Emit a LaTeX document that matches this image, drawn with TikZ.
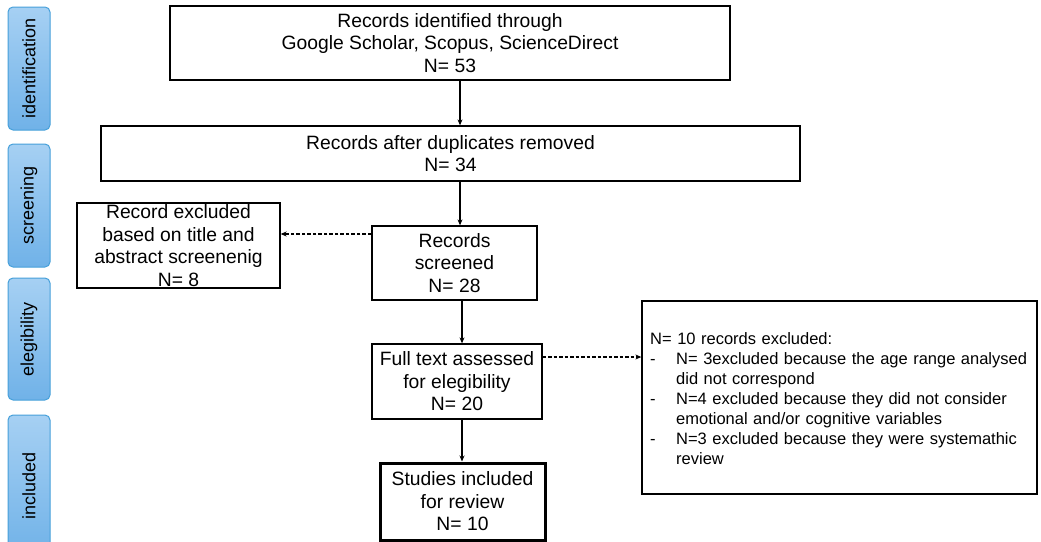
\documentclass[tikz,border=0pt]{standalone}
\usepackage{fontspec}
\setmainfont{Liberation Sans}
\usetikzlibrary{arrows.meta}
\definecolor{sideline}{RGB}{70,160,218}
\definecolor{sidetop}{RGB}{166,208,243}
\definecolor{sidebot}{RGB}{112,178,232}
\begin{document}
\begin{tikzpicture}[x=1pt,y=-1pt,
                    box/.style={draw,line width=1.3pt,inner sep=0pt,align=center,
                                font=\fontsize{19.3}{22.5}\selectfont},
                    side/.style={draw=sideline,line width=1pt,rounded corners=5pt,
                                 top color=sidetop,bottom color=sidebot,
                                 minimum height=42pt,rotate=90,
                                 font=\fontsize{18}{20}\selectfont},
                    flow/.style={-{Stealth[length=6pt,width=5pt]},line width=1.3pt},
                    skip/.style={flow,dash pattern=on 3.5pt off 2pt}]
  \useasboundingbox (0,0) rectangle (1041,541);
  % phases
  \node[side,minimum width=123pt] (ident) at (29,68.5) {identification};
  \node[side,minimum width=123pt] (scr) at (29,205.5) {screening};
  \node[side,minimum width=122pt] (elig) at (29,339) {elegibility};
  \node[side,minimum width=141pt] (incl) at (29,485.5) {included};
  % main column
  \node[box,minimum width=560pt,minimum height=74pt] (found) at (450,43)
    {Records identified through\\Google Scholar, Scopus, ScienceDirect\\N= 53};
  \node[box,minimum width=699pt,minimum height=55pt] (dupl) at (450.5,153.5)
    {Records after duplicates removed\\N= 34};
  \node[box,minimum width=165pt,minimum height=74pt] (scrd) at (454.5,263)
    {Records\\screened\\N= 28};
  \node[box,minimum width=170pt,minimum height=75pt] (full) at (457,381.5)
    {Full text assessed\\for elegibility\\N= 20};
  \node[box,line width=3pt,minimum width=165pt,minimum height=77pt] (incd) at (462.5,501.5)
    {Studies included\\for review\\N= 10};
  % excluded
  \node[box,minimum width=203pt,minimum height=85pt] (excl) at (178.5,245.5)
    {Record excluded\\based on title and\\abstract screenenig\\N= 8};
  \node[draw,line width=1.3pt,minimum width=395pt,minimum height=193pt] (why) at (839.5,397.5) {};
  \node[anchor=north west,inner sep=0pt,text width=385pt,
        font=\fontsize{16.5}{20}\selectfont] (whytext) at (650,332) {%
    N= 10 records excluded:\\
    \makebox[26pt][l]{-}N= 3excluded because the age range analysed\\
    \hspace*{26pt}did not correspond\\
    \makebox[26pt][l]{-}N=4 excluded because they did not consider\\
    \hspace*{26pt}emotional and/or cognitive variables\\
    \makebox[26pt][l]{-}N=3 excluded because they were systemathic\\
    \hspace*{26pt}review};
  % connectors
  \coordinate (top) at (460,0);
  \coordinate (low) at (462,0);
  \draw[flow] (found.south -| top) -- (dupl.north -| top);
  \draw[flow] (dupl.south -| top) -- (scrd.north -| top);
  \draw[flow] (scrd.south -| low) -- (full.north -| low);
  \draw[flow] (full.south -| low) -- (incd.north -| low);
  \draw[skip] ([yshift=29pt]scrd.west) -- ([yshift=29pt]scrd.west -| excl.east);
  \draw[skip] ([yshift=24.5pt]full.east) -- ([yshift=24.5pt]full.east -| why.west);
\end{tikzpicture}
\end{document}
